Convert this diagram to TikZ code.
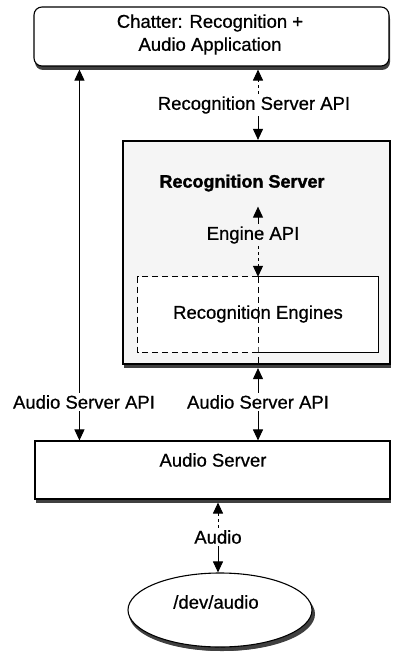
\documentclass[tikz,border=0pt]{standalone}
\usepackage{fontspec}
\setmainfont{Liberation Sans}
\newfontfamily\lblfont{Liberation Sans}[FakeBold=0.7]
\newfontfamily\titlefont{Liberation Sans Bold}[FakeBold=1.6]
\usetikzlibrary{arrows.meta,shadows,shapes.geometric,calc}
\begin{document}
\begin{tikzpicture}[x=1pt,y=-1pt,
  every node/.style={font=\lblfont\fontsize{18.5}{23}\selectfont, inner sep=3pt},
  box/.style={draw=black, line width=1.1pt, fill=white, inner sep=0pt,
     drop shadow={shadow xshift=1pt, shadow yshift=-4pt, fill=black!75, opacity=1}},
  lbl/.style={inner sep=2.5pt},
  arr/.style={-{Triangle[length=11pt,width=10pt]}, line width=1pt},
  dsh/.style={dash pattern=on 6pt off 4pt, line width=1.2pt},
]
\useasboundingbox (0,0) rectangle (392,655);

% top application box
\node[box, rounded corners=8pt, minimum width=355pt, minimum height=59pt] (chatter) at (211.5,36.5) {};
\node[align=center] (chattertext) at (210,34.5) {Chatter: Recognition +\\Audio Application};

% recognition server container
\node[box, line width=2.2pt, fill=black!4, minimum width=267pt, minimum height=223pt] (recsrv) at (256.5,252.5) {};
\node (rstitle) at (242,183) {\titlefont\fontsize{18}{22}\selectfont Recognition Server};

% recognition engines box (left half dashed, right half solid)
\node[fill=white, minimum width=240pt, minimum height=75pt, inner sep=0pt] (eng) at (258,314.5) {};
\node at (258,314) (englbl) {Recognition Engines};
\draw[dsh] (eng.north) -- (eng.north west) -- (eng.south west) -- (eng.south);
\draw[line width=1.1pt] (eng.north) -- (eng.north east) -- (eng.south east) -- (eng.south);
\draw[dsh, line width=1pt] (eng.north) -- (eng.south) -- (eng.south |- recsrv.south);

% audio server
\node[box, minimum width=355pt, minimum height=58pt] (audiosrv) at (212.5,470) {};
\node (asl) at (213,460) {Audio Server};

% /dev/audio
\node[box, ellipse, minimum width=184pt, minimum height=74pt,
      drop shadow={shadow xshift=3pt, shadow yshift=-4pt, fill=black!75, opacity=1}] (dev) at (220,610) {};
\node (devl) at (216,602) {/dev/audio};

% labels
\node[lbl] (rsapi) at (254,105) {Recognition Server API};
\node[lbl] (engapi) at (253,235) {Engine API};
\node[lbl] (asapiL) at (84,402) {Audio Server API};
\node[lbl] (asapiR) at (258,402) {Audio Server API};
\node[lbl] (audiol) at (218,537) {Audio};

\coordinate (Ltop) at ($(chatter.south west)+(46,0)$);

% connectors
\draw[arr] (asapiL.north -| Ltop) -- ($(Ltop)+(0,3)$);
\draw[arr] (asapiL.south -| Ltop) -- (Ltop |- audiosrv.north);

\draw[arr, dashed] (rsapi.north -| eng.north) -- ($(eng.north |- chatter.south)+(0,3)$);
\draw[arr] (rsapi.south -| eng.north) -- (eng.north |- recsrv.north);

\draw[arr] (engapi.north -| eng.north) -- ($(eng.north |- rstitle.south)+(0,12)$);
\draw[arr, dashed] (engapi.south -| eng.north) -- (eng.north);

\draw[arr] (asapiR.north -| eng.north) -- ($(eng.north |- recsrv.south)+(0,3)$);
\draw[arr] (asapiR.south) -- (asapiR.south |- audiosrv.north);

\draw[arr, dashed] (audiol.north) -- ($(audiol.north |- audiosrv.south)+(0,3)$);
\draw[arr] (audiol.south) -- (audiol.south |- dev.north);
\end{tikzpicture}
\end{document}
